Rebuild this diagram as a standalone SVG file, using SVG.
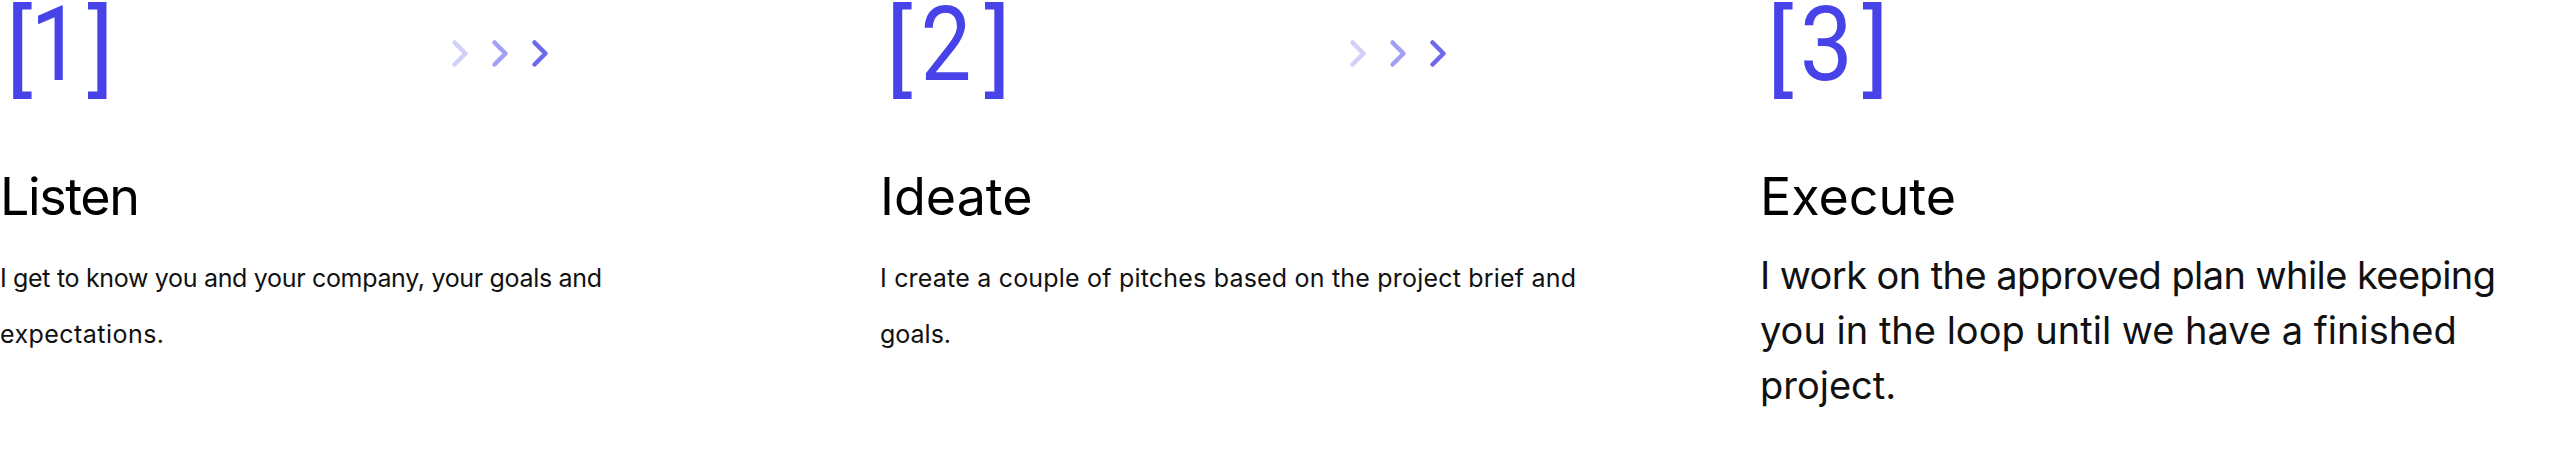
<svg xmlns="http://www.w3.org/2000/svg" width="2560" height="466" viewBox="0 0 2560 466">
<style>
.num{font-family:Roboto,"Liberation Sans",sans-serif;fill:#4743E8;}
.br{font-size:100px;}
.dg{font-size:103px;text-anchor:middle;}
.end{text-anchor:end;}
.title{font-family:Inter,"Liberation Sans",sans-serif;font-size:52px;fill:#000;}
.body{font-family:Inter,"Liberation Sans",sans-serif;font-size:25px;fill:#111;}
.body-lg{font-family:Inter,"Liberation Sans",sans-serif;font-size:38px;fill:#111;}
.chev{fill:none;stroke:#4743E8;stroke-width:4.5;stroke-linecap:round;stroke-linejoin:round;}
</style>
<defs>
<path id="chevron" d="M2.5,2.5 L13.5,13.5 L2.5,24.5"/>
</defs>
<rect width="2560" height="466" fill="#fff"/>
<g id="step-1">
<g class="num">
<text class="br" x="6" y="83.5">[</text>
<text class="dg" transform="translate(56 80) scale(0.88 1)">1</text>
<text class="br end" x="114" y="83.5">]</text>
</g>
<text class="title" x="0" y="215" textLength="140">Listen</text>
<text class="body" x="0" y="287" textLength="602">I get to know you and your company, your goals and</text>
<text class="body" x="0" y="343" textLength="164">expectations.</text>
</g>
<g id="step-2">
<g class="num">
<text class="br" x="886" y="83.5">[</text>
<text class="dg" transform="translate(946 80) scale(0.88 1)">2</text>
<text class="br end" x="1011" y="83.5">]</text>
</g>
<text class="title" x="880" y="215">Ideate</text>
<text class="body" x="880" y="287" textLength="696">I create a couple of pitches based on the project brief and</text>
<text class="body" x="880" y="343">goals.</text>
</g>
<g id="step-3">
<g class="num">
<text class="br" x="1767" y="83.5">[</text>
<text class="dg" transform="translate(1826.5 80) scale(0.92 1)">3</text>
<text class="br end" x="1889" y="83.5">]</text>
</g>
<text class="title" x="1760" y="215">Execute</text>
<text class="body-lg" x="1760" y="289" textLength="736">I work on the approved plan while keeping</text>
<text class="body-lg" x="1760" y="344">you in the loop until we have a finished</text>
<text class="body-lg" x="1760" y="399">project.</text>
</g>
<g id="connectors" class="chev">
<use href="#chevron" x="452" y="40" opacity="0.25"/>
<use href="#chevron" x="492" y="40" opacity="0.5"/>
<use href="#chevron" x="532" y="40" opacity="0.8"/>
<use href="#chevron" x="1350" y="40" opacity="0.25"/>
<use href="#chevron" x="1390" y="40" opacity="0.5"/>
<use href="#chevron" x="1430" y="40" opacity="0.8"/>
</g>
</svg>
